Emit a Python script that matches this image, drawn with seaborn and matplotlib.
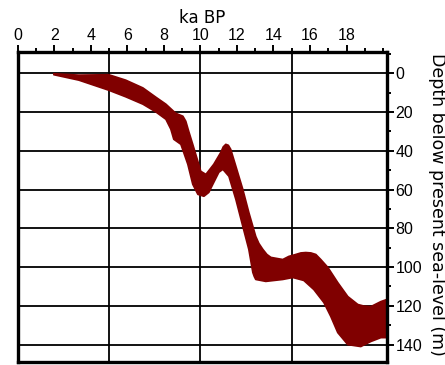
import numpy as np
import pandas as pd
import matplotlib
matplotlib.use("Agg")
import matplotlib.pyplot as plt
from matplotlib.ticker import MultipleLocator
import seaborn as sns

# Sea-level envelope, traced as two edges (age in ka BP, depth in m)
shallow_age = [1.97, 3.34, 4.98, 5.91, 6.85, 7.56, 8.11, 8.65, 9.04, 9.20,
               9.36, 9.58, 9.86, 10.02, 10.30, 10.73, 11.12, 11.25, 11.39,
               11.53, 11.66, 11.94, 12.32, 12.65, 13.03, 13.20, 13.42, 13.64,
               13.86, 14.51, 14.84, 15.22, 15.50, 15.77, 16.05, 16.32, 16.59,
               16.98, 17.52, 18.07, 18.62, 18.95, 19.33, 19.88, 20.21]
shallow_depth = [0.3, 1.0, 0.8, 3.6, 7.6, 12.4, 16.0, 20.7, 22.2, 24.8,
                 30.0, 36.7, 45.5, 50.6, 52.2, 47.0, 40.8, 38.0, 36.7,
                 37.2, 39.3, 48.0, 59.9, 71.8, 84.2, 87.8, 90.9, 93.5,
                 95.0, 96.1, 94.5, 93.5, 92.7, 92.5, 92.7, 93.5, 96.1,
                 100.2, 108.0, 115.2, 119.3, 120.1, 120.4, 117.8, 116.7]

deep_age = [1.97, 3.34, 4.98, 5.91, 6.85, 7.56, 8.11, 8.38, 8.54, 8.93,
            9.31, 9.58, 9.86, 10.19, 10.46, 10.68, 11.01, 11.23, 11.56,
            11.94, 12.32, 12.65, 12.87, 12.95, 13.03, 13.58, 14.51, 15.06,
            15.66, 16.21, 16.76, 17.14, 17.52, 18.07, 18.78, 19.33, 19.88,
            20.21]
deep_depth = [0.8, 3.6, 8.8, 12.2, 16.0, 20.0, 23.8, 28.9, 34.1, 36.7,
              47.0, 57.3, 62.5, 63.5, 61.5, 57.3, 51.1, 49.6, 53.2,
              65.1, 79.0, 90.9, 102.8, 104.9, 106.4, 107.4, 106.4, 105.4,
              106.9, 111.6, 118.3, 125.5, 133.8, 140.0, 141.0, 138.4, 136.4,
              136.4]

x_ticks = [0, 2, 4, 6, 8, 10, 12, 14, 16, 18]
y_ticks = [0, 20, 40, 60, 80, 100, 120, 140]
x_grid = [5, 10, 15]

band_color = "#800000"

sns.set_style("white")
plt.rcParams["font.family"] = ["Liberation Sans", "DejaVu Sans"]
plt.rcParams["text.color"] = "black"

shallow = pd.DataFrame({"age": shallow_age, "depth": shallow_depth})
deep = pd.DataFrame({"age": deep_age, "depth": deep_depth})

fig = plt.figure(figsize=(4.45, 3.65), dpi=100)
ax = fig.add_axes([0.040, 0.008, 0.829, 0.850])

# grid lines
for xv in x_grid:
    ax.axvline(xv, color="black", lw=1.3, zorder=1)
for yv in y_ticks:
    ax.axhline(yv, color="black", lw=1.3, zorder=1)

# envelope polygon: shallow edge forward, deep edge back
poly_x = list(shallow["age"]) + list(deep["age"])[::-1]
poly_y = list(shallow["depth"]) + list(deep["depth"])[::-1]
ax.fill(poly_x, poly_y, color=band_color, lw=0, zorder=2)
sns.lineplot(data=shallow, x="age", y="depth", sort=False, color=band_color,
             lw=1.2, ax=ax, zorder=3, solid_joinstyle="round")
sns.lineplot(data=deep, x="age", y="depth", sort=False, color=band_color,
             lw=1.2, ax=ax, zorder=3, solid_joinstyle="round")

ax.set_xlim(0, 20.2)
ax.set_ylim(149, -11)

# top age axis
ax.xaxis.set_ticks_position("top")
ax.set_xticks(x_ticks)
ax.xaxis.set_minor_locator(MultipleLocator(1))
ax.set_xlabel("")
fig.text(0.454, 0.950, "ka BP", fontsize=12, family="DejaVu Sans",
         ha="center", va="center", color="black")

# right depth axis
ax.yaxis.set_ticks_position("right")
ax.set_yticks(y_ticks)
ax.yaxis.set_minor_locator(MultipleLocator(10))
ax.set_ylabel("")
fig.text(0.981, 0.440, "Depth below present sea-level (m)", fontsize=12.5,
         family="DejaVu Sans", rotation=270, ha="center", va="center",
         color="black")

ax.tick_params(which="major", direction="out", length=5, width=1.4,
               color="black", labelcolor="black", labelsize=11.5, pad=1.5)
ax.tick_params(which="minor", direction="out", length=3, width=1.4,
               color="black")
ax.tick_params(axis="y", which="both", right=True, left=False)
ax.tick_params(axis="x", which="both", top=True, bottom=False)

for sp in ax.spines.values():
    sp.set_visible(True)
    sp.set_color("black")
    sp.set_linewidth(2.4)
    sp.set_zorder(5)

fig.savefig("out.png", dpi=100, facecolor="white")
